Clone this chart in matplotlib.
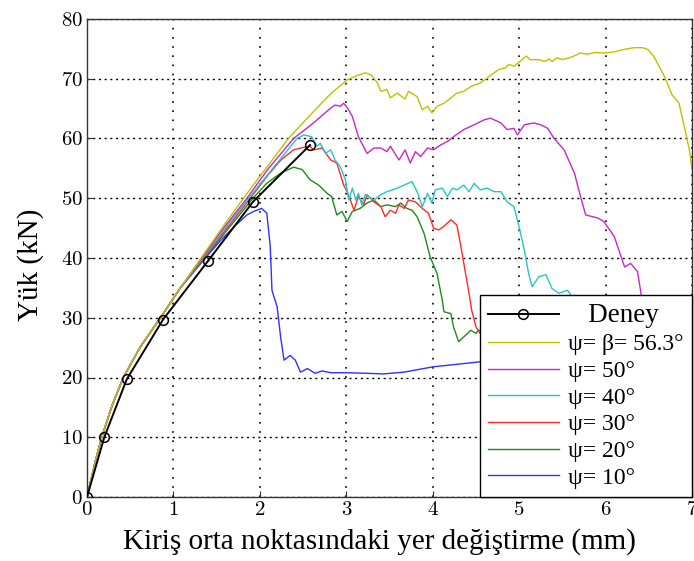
import matplotlib
matplotlib.use("Agg")
import matplotlib.pyplot as plt
from matplotlib.ticker import FuncFormatter, MultipleLocator

plt.rcParams['font.family'] = ['Liberation Serif', 'DejaVu Serif']
plt.rcParams['mathtext.fontset'] = 'cm'

# ortak başlangıç (elastik) bölgesi
ramp_x = [0, 0.04, 0.10, 0.17, 0.29, 0.42, 0.62, 0.85, 1.08]
ramp_y = [0, 2.5, 6.2, 10.0, 15.3, 20.0, 25.2, 30.0, 35.0]

# deney verisi
deney_x = [0, 0.20, 0.46, 0.88, 1.40, 1.92, 2.58]
deney_y = [0, 10.0, 19.7, 29.7, 39.5, 49.4, 58.9]

psi563_x = ramp_x + [1.32, 1.56, 1.81, 2.07, 2.33, 2.62, 2.82, 3.01, 3.12, 3.22, 3.29, 3.36, 3.40,
                     3.47, 3.51, 3.59, 3.68, 3.72, 3.82, 3.88, 3.94, 3.99, 4.05, 4.13, 4.21, 4.28,
                     4.36, 4.44, 4.55, 4.63, 4.67, 4.73, 4.77, 4.84, 4.88, 4.94, 5.02, 5.08, 5.13,
                     5.23, 5.29, 5.35, 5.38, 5.44, 5.50, 5.60, 5.71, 5.79, 5.88, 5.98, 6.10, 6.21,
                     6.33, 6.43, 6.49, 6.56, 6.68, 6.77, 6.85, 6.91, 6.97, 7.00]
psi563_y = ramp_y + [40.0, 45.0, 50.0, 55.0, 60.0, 64.5, 67.5, 69.8, 70.5, 71.0, 70.6, 69.3, 67.9,
                     68.2, 66.8, 67.6, 66.6, 67.9, 67.0, 64.8, 65.4, 64.3, 65.4, 65.9, 66.8, 67.6,
                     67.9, 68.7, 69.3, 70.1, 70.6, 71.2, 71.6, 71.8, 72.4, 72.1, 73.0, 73.8, 73.2,
                     73.2, 72.9, 73.3, 72.9, 73.5, 73.2, 73.6, 74.3, 74.1, 74.4, 74.3, 74.5, 74.9,
                     75.2, 75.2, 74.9, 73.7, 70.4, 67.3, 65.9, 62.0, 58.1, 54.8]

psi50_x = ramp_x + [1.33, 1.58, 1.85, 2.10, 2.39, 2.62, 2.82, 2.87, 2.93, 2.97, 3.01, 3.07, 3.14,
                    3.24, 3.32, 3.40, 3.47, 3.51, 3.61, 3.68, 3.74, 3.80, 3.86, 3.94, 4.01, 4.09,
                    4.17, 4.24, 4.36, 4.48, 4.59, 4.67, 4.79, 4.86, 4.94, 4.98, 5.06, 5.17, 5.25,
                    5.33, 5.40, 5.52, 5.64, 5.71, 5.77, 5.91, 5.98, 6.10, 6.18, 6.22, 6.29, 6.37,
                    6.41, 6.48, 6.60]
psi50_y = ramp_y + [40.0, 45.0, 50.0, 55.0, 60.0, 62.6, 65.1, 65.6, 65.4, 65.9, 65.2, 63.7, 60.3,
                    57.5, 58.4, 58.4, 57.8, 58.7, 56.4, 58.1, 55.9, 57.8, 57.0, 58.4, 58.1, 58.9,
                    59.5, 60.3, 61.5, 62.3, 63.1, 63.4, 62.6, 61.5, 61.7, 60.6, 62.3, 62.6, 62.3,
                    61.7, 60.1, 58.1, 54.2, 50.3, 47.2, 46.7, 46.1, 43.6, 40.2, 38.5, 39.1, 37.7,
                    34.1, 28.0, 22.0]

psi40_x = ramp_x + [1.34, 1.60, 1.87, 2.15, 2.43, 2.51, 2.60, 2.66, 2.70, 2.76, 2.82, 2.87, 2.93,
                    2.99, 3.03, 3.07, 3.11, 3.14, 3.18, 3.22, 3.26, 3.32, 3.40, 3.47, 3.59, 3.67,
                    3.76, 3.82, 3.88, 3.94, 3.99, 4.03, 4.11, 4.17, 4.23, 4.28, 4.36, 4.42, 4.48,
                    4.55, 4.63, 4.71, 4.79, 4.86, 4.94, 5.00, 5.06, 5.11, 5.15, 5.23, 5.31, 5.38,
                    5.46, 5.56, 5.61, 5.80, 6.00]
psi40_y = ramp_y + [40.0, 45.0, 50.0, 55.0, 60.0, 60.6, 60.3, 58.7, 59.2, 57.5, 58.1, 56.4, 55.3,
                    53.1, 49.7, 51.7, 49.7, 50.8, 48.9, 50.6, 50.3, 49.7, 50.6, 51.1, 51.7, 52.2,
                    52.8, 51.1, 48.6, 50.8, 49.2, 51.4, 51.7, 50.3, 51.7, 51.4, 52.2, 51.1, 52.5,
                    51.4, 51.7, 51.1, 51.1, 49.4, 48.6, 45.2, 41.3, 37.4, 35.2, 36.9, 37.2, 34.9,
                    34.1, 34.6, 33.5, 30.0, 26.0]

psi30_x = ramp_x + [1.35, 1.62, 1.89, 2.10, 2.25, 2.39, 2.50, 2.58, 2.62, 2.72, 2.82, 2.89, 2.97,
                    3.01, 3.09, 3.14, 3.20, 3.24, 3.32, 3.40, 3.45, 3.51, 3.57, 3.61, 3.67, 3.72,
                    3.80, 3.88, 3.95, 4.01, 4.07, 4.13, 4.21, 4.28, 4.34, 4.38, 4.42, 4.45, 4.50,
                    4.53, 4.70]
psi30_y = ramp_y + [40.0, 45.0, 50.0, 54.0, 56.5, 58.1, 58.5, 58.7, 58.1, 58.4, 56.4, 55.9, 52.2,
                    51.1, 48.0, 50.3, 48.9, 50.6, 49.4, 48.6, 46.9, 48.0, 47.5, 48.9, 48.3, 49.7,
                    49.4, 48.3, 47.5, 45.0, 44.7, 45.3, 46.4, 45.5, 40.8, 37.4, 34.1, 31.3, 28.5,
                    27.7, 25.0]

psi20_x = ramp_x + [1.36, 1.64, 1.92, 2.08, 2.24, 2.39, 2.49, 2.58, 2.68, 2.78, 2.83, 2.89, 2.95,
                    3.01, 3.07, 3.16, 3.24, 3.32, 3.40, 3.47, 3.57, 3.63, 3.70, 3.76, 3.82, 3.90,
                    3.97, 4.05, 4.11, 4.13, 4.21, 4.24, 4.30, 4.36, 4.44, 4.50, 4.53, 4.70]
psi20_y = ramp_y + [40.0, 45.0, 50.0, 52.5, 54.2, 55.2, 54.8, 53.1, 52.2, 50.8, 50.3, 47.2, 47.8,
                    46.1, 47.8, 48.3, 49.2, 49.7, 48.6, 48.9, 48.6, 49.2, 48.3, 48.0, 46.9, 44.1,
                    40.2, 37.4, 33.0, 31.0, 30.7, 28.5, 26.0, 26.8, 27.9, 27.4, 27.9, 27.5]

psi10_x = ramp_x + [1.37, 1.55, 1.70, 1.85, 1.93, 2.02, 2.08, 2.12, 2.14, 2.20, 2.24, 2.28, 2.35,
                    2.41, 2.47, 2.55, 2.64, 2.72, 2.82, 3.01, 3.24, 3.43, 3.67, 3.82, 4.01, 4.21,
                    4.40, 4.53, 4.80]
psi10_y = ramp_y + [40.0, 43.0, 45.2, 47.2, 47.8, 48.3, 47.5, 42.0, 34.6, 31.8, 26.8, 22.9, 23.7,
                    22.9, 20.9, 21.5, 20.7, 21.1, 20.8, 20.8, 20.7, 20.6, 20.9, 21.3, 21.8, 22.1,
                    22.4, 22.6, 23.0]

fe_series = [
    (psi10_x, psi10_y, '#3030ff', 'ψ= 10°'),
    (psi20_x, psi20_y, '#1f8a1f', 'ψ= 20°'),
    (psi30_x, psi30_y, '#ff2a2a', 'ψ= 30°'),
    (psi40_x, psi40_y, '#22c8c8', 'ψ= 40°'),
    (psi50_x, psi50_y, '#c828c8', 'ψ= 50°'),
    (psi563_x, psi563_y, '#c0c000', 'ψ= β= 56.3°'),
]

fig = plt.figure(figsize=(6.94, 5.61), dpi=100)
ax = fig.add_axes([87 / 694, 1 - 497 / 561, 605 / 694, 478 / 561])

handles = {}
for i, (xs, ys, col, lab) in enumerate(fe_series):
    h, = ax.plot(xs, ys, color=col, lw=1.0, label=lab, zorder=2 + i * 0.1)
    handles[lab] = h

h_deney, = ax.plot(deney_x, deney_y, color='black', lw=1.4, marker='o', ms=7,
                   mfc='none', mec='black', mew=1.1, label='Deney', zorder=4)

ax.set_xlim(0, 7)
ax.set_ylim(0, 80)
ax.xaxis.set_major_locator(MultipleLocator(1))
ax.yaxis.set_major_locator(MultipleLocator(10))
fmt = FuncFormatter(lambda v, pos: r'$%d$' % round(v))
ax.xaxis.set_major_formatter(fmt)
ax.yaxis.set_major_formatter(fmt)
ax.tick_params(direction='in', length=4, width=0.8, labelsize=15, pad=3, color='#333333')

# noktalı ızgara: dikey çizgiler seyrek nokta, yatay çizgiler kısa tire
ax.xaxis.grid(True, color='black', linestyle=(0, (1, 4.5)), linewidth=1.2)
ax.yaxis.grid(True, color='black', linestyle=(0, (1.5, 2.6)), linewidth=1.0)
for s in ax.spines.values():
    s.set_color('#333333')
    s.set_linewidth(1.0)

ax.set_xlabel('Kiriş orta noktasındaki yer değiştirme (mm)', fontsize=21, labelpad=6)
ax.xaxis.label.set_x(0.483)
ax.set_ylabel('Yük (kN)', fontsize=21, labelpad=12)
ax.yaxis.label.set_y(0.485)

order = [h_deney] + [handles[lab] for lab in
                     ['ψ= β= 56.3°', 'ψ= 50°', 'ψ= 40°', 'ψ= 30°', 'ψ= 20°', 'ψ= 10°']]
labels = ['   Deney'] + [h.get_label() for h in order[1:]]
leg = ax.legend(handles=order, labels=labels,
                loc='lower right', bbox_to_anchor=(1.0, 0.0), borderaxespad=0,
                fontsize=17, handlelength=3.0, handletextpad=0.4, labelspacing=0.22,
                borderpad=0.35, fancybox=False, framealpha=1, edgecolor='black')
leg.get_frame().set_linewidth(1.0)
leg.get_texts()[0].set_fontsize(19.5)
leg.set_zorder(10)

fig.savefig('out.png', dpi=100)
